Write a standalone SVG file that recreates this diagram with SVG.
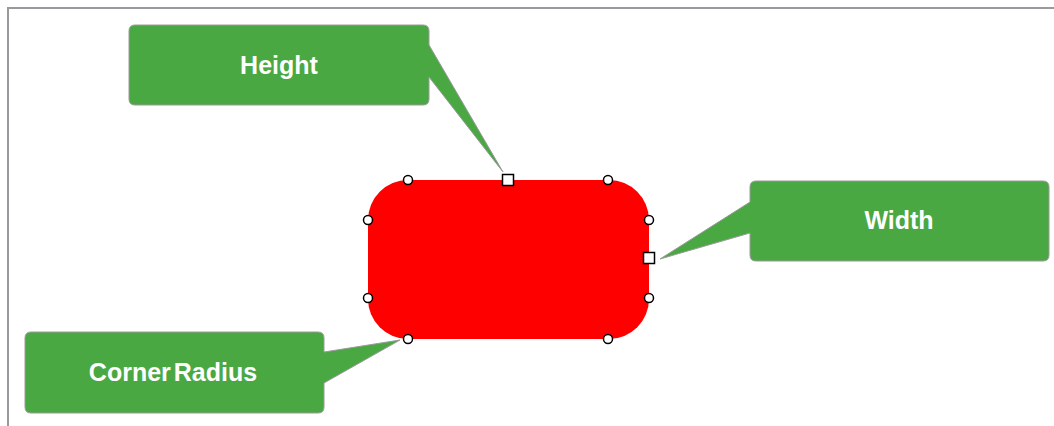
<svg xmlns="http://www.w3.org/2000/svg" width="1054" height="426" viewBox="0 0 1054 426">
<style>
.callout{fill:#4aa843;stroke:#9a9a9a;stroke-width:1}
.lbl{font-family:"Liberation Sans",Arial,sans-serif;font-weight:bold;font-size:25px;fill:#ffffff;text-anchor:middle}
.hc{fill:#ffffff;stroke:#000000;stroke-width:1.5}
.frame{stroke:#9a9a9e;stroke-width:2;fill:none}
</style>
<rect x="0" y="0" width="1054" height="426" fill="#ffffff"/>
<g id="frame">
<path class="frame" d="M8,426 V8 H1054"/>
</g>
<g id="shape">
<rect x="368" y="180" width="281" height="159" rx="40" ry="40" fill="#ff0000"/>
</g>
<g id="connectors">
</g>
<g id="height">
<path class="callout" d="M135,25 H423 Q429,25 429,31 V45 L503,172 L429,77 V99 Q429,105 423,105 H135 Q129,105 129,99 V31 Q129,25 135,25 Z"/>
<text class="lbl" x="279" y="74">Height</text>
</g>
<g id="width">
<path class="callout" d="M756,181 H1043 Q1049,181 1049,187 V255 Q1049,261 1043,261 H756 Q750,261 750,255 V233 L660,259 L750,202 V187 Q750,181 756,181 Z"/>
<text class="lbl" x="899" y="229">Width</text>
</g>
<g id="corner-radius">
<path class="callout" d="M31,332 H318 Q324,332 324,338 V352 L400,340 L324,383 V407 Q324,413 318,413 H31 Q25,413 25,407 V338 Q25,332 31,332 Z"/>
<text class="lbl" x="173" y="381" word-spacing="-4">Corner Radius</text>
</g>
<g id="handles">
<circle class="hc" cx="408" cy="180" r="4.5"/>
<circle class="hc" cx="608" cy="180" r="4.5"/>
<circle class="hc" cx="368" cy="220" r="4.5"/>
<circle class="hc" cx="649" cy="220" r="4.5"/>
<circle class="hc" cx="368" cy="298" r="4.5"/>
<circle class="hc" cx="649" cy="298" r="4.5"/>
<circle class="hc" cx="408" cy="339" r="4.5"/>
<circle class="hc" cx="608" cy="339" r="4.5"/>
<rect class="hc" x="502.5" y="174.5" width="11" height="11"/>
<rect class="hc" x="643.5" y="252.5" width="11" height="11"/>
</g>
</svg>
